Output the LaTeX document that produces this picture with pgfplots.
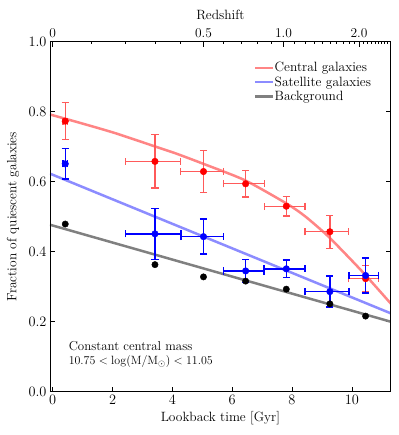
\documentclass[border=0pt]{standalone}
\usepackage{pgfplots}
\usepackage{pgfplotstable}
\pgfplotsset{compat=1.18}
\definecolor{lred}{HTML}{FF8585}
\definecolor{lblue}{HTML}{8C8CFF}
\definecolor{lgray}{HTML}{808080}
\definecolor{ebred}{HTML}{FF5A5A}

\pgfplotstableread{
x exm exp y ey
0.42 0.08 0.08 0.773 0.053
3.419 0.987 0.863 0.658 0.076
5.041 0.759 0.669 0.629 0.060
6.45 0.74 0.62 0.594 0.038
7.81 0.74 0.62 0.530 0.028
9.266 0.836 0.634 0.457 0.047
10.46 0.56 0.434 0.323 0.037
}\central

\pgfplotstableread{
x exm exp y ey
0.42 0.08 0.08 0.651 0.044
3.419 0.987 0.863 0.451 0.073
5.041 0.759 0.669 0.443 0.050
6.45 0.74 0.62 0.345 0.033
7.81 0.74 0.62 0.351 0.025
9.266 0.836 0.634 0.286 0.044
10.46 0.56 0.434 0.332 0.050
}\satellite

\pgfplotstableread{
x y
0.42 0.479
3.419 0.363
5.041 0.328
6.45 0.316
7.81 0.293
9.266 0.251
10.46 0.216
}\background

\pgfplotstableread{
x y
-0.09 0.792
0.96 0.767
2.08 0.739
3.41 0.701
4.14 0.680
5.04 0.651
6.43 0.604
7.83 0.537
8.44 0.501
9.22 0.443
10.33 0.345
11.30 0.252
}\centralfit

\pgfplotstableread{
x y
-0.09 0.623
11.30 0.224
}\satfit

\pgfplotstableread{
x y
-0.09 0.477
11.30 0.200
}\bgfit

\begin{document}
\begin{tikzpicture}
\pgfplotsset{
  common/.style={
    scale only axis, width=340.7bp, height=350bp,
    xmin=-0.09, xmax=11.30, ymin=0, ymax=1,
    tick align=inside,
    major tick length=5bp, minor tick length=2.6bp,
    every tick/.style={black, line width=0.6bp},
    axis line style={line width=0.8bp},
    tick label style={font=\fontsize{13.5}{16}\selectfont},
    label style={font=\fontsize{13.5}{16}\selectfont},
  }
}
\begin{axis}[common,
  xtick={0,2,4,6,8,10},
  ytick={0,0.2,0.4,0.6,0.8,1.0},
  yticklabel style={/pgf/number format/.cd,fixed,fixed zerofill,precision=1},
  xtick pos=left, ytick pos=both,
  xlabel={Lookback time [Gyr]},
  ylabel={Fraction of quiescent galaxies},
  xlabel style={at={(axis description cs:0.5,-0.0743)}, anchor=center},
  ylabel style={at={(axis description cs:-0.1086,0.5)}, anchor=center},
  legend style={draw=none, fill=none, at={(axis description cs:0.59,0.953)}, anchor=north west,
    font=\fontsize{13.5}{16}\selectfont, row sep=-0.6bp,
    nodes={inner xsep=0bp},
    legend cell align=left},
  legend image code/.code={\draw[#1, line width=2.5bp] (0bp,0bp) -- (18bp,0bp);},
]
\addplot[lred, line width=2.5bp, smooth, tension=0.4] table[x=x,y=y] {\centralfit};
\addlegendentry{Central galaxies}
\addplot[lblue, line width=2.5bp] table[x=x,y=y] {\satfit};
\addlegendentry{Satellite galaxies}
\addplot[lgray, line width=2.5bp] table[x=x,y=y] {\bgfit};
\addlegendentry{Background}

\addplot[forget plot, only marks, mark=*, mark size=3.2bp, black] table[x=x,y=y] {\background};

\addplot[forget plot, only marks, mark=*, mark size=3.3bp, red,
  error bars/.cd, x dir=both, x explicit, y dir=both, y explicit,
  error bar style={line width=1.3bp, ebred},
  error mark options={rotate=90, line width=1.3bp, ebred, mark size=3.6bp}]
  table[x=x, y=y, x error minus=exm, x error plus=exp, y error=ey] {\central};

\addplot[forget plot, only marks, mark=*, mark size=3.3bp, blue,
  error bars/.cd, x dir=both, x explicit, y dir=both, y explicit,
  error bar style={line width=1.5bp, blue},
  error mark options={rotate=90, line width=1.5bp, blue, mark size=3.6bp}]
  table[x=x, y=y, x error minus=exm, x error plus=exp, y error=ey] {\satellite};

\node[anchor=west, font=\fontsize{13}{15}\selectfont] at (axis cs:0.42,0.129) {Constant central mass};
\node[anchor=west, font=\fontsize{13}{15}\selectfont] at (axis cs:0.42,0.085) {$10.75<\log(\mathrm{M}/\mathrm{M}_{\odot})<11.05$};
\end{axis}

\begin{axis}[common,
  xtick pos=right, xticklabel pos=right,
  ytick=\empty,
  xtick={0,5.041,7.716,10.241},
  xticklabels={0,0.5,1.0,2.0},
  minor xtick={1.301,2.432,3.419,4.282,5.710,6.302,6.828,7.296,8.092,8.430,8.737,9.014,9.266,9.496,9.707,9.900,10.077,10.391,10.531,10.661,10.781,10.894,10.998,11.096,11.188,11.274},
  xlabel={Redshift},
  xlabel style={at={(axis description cs:0.5,1.0763)}, anchor=center},
]
\end{axis}
\path[use as bounding box] (-50bp,-43.3bp) rectangle (349bp,391.7bp);
\end{tikzpicture}
\end{document}
